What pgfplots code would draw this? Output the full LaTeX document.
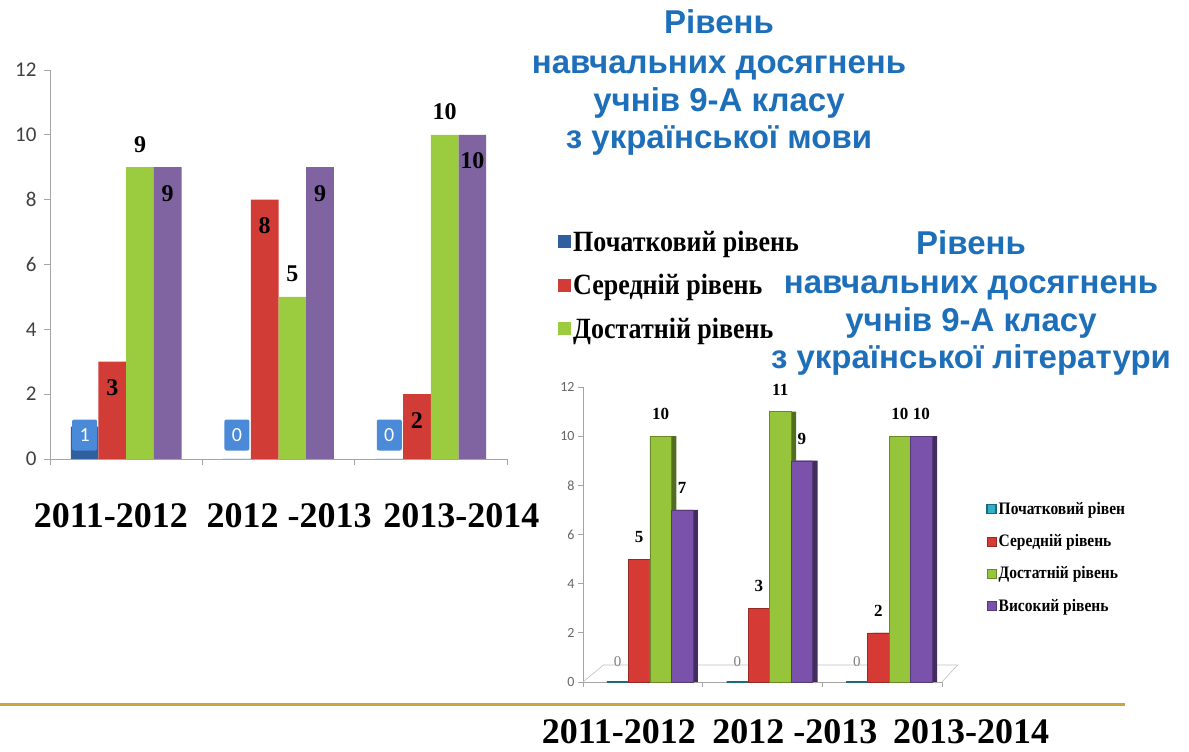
\documentclass[border=0pt]{standalone}
\usepackage{fontspec}
\setmainfont{Liberation Serif}
\newfontfamily\titlefont{Liberation Sans}
\newfontfamily\calibri{Carlito}
\usepackage{graphicx}
\usepackage{pgfplots}
\pgfplotsset{compat=1.18}
\definecolor{lblue}{RGB}{47,95,158}
\definecolor{lbox}{RGB}{74,138,216}
\definecolor{lred}{RGB}{210,60,55}
\definecolor{lgreen}{RGB}{155,203,63}
\definecolor{lpurple}{RGB}{128,100,162}
\definecolor{rteal}{RGB}{49,176,200}
\definecolor{rred}{RGB}{214,58,52}
\definecolor{rgreen}{RGB}{150,196,58}
\definecolor{rpurple}{RGB}{122,82,172}
\definecolor{ttl}{RGB}{30,111,186}
\definecolor{gold}{RGB}{201,166,64}
\definecolor{axgray}{RGB}{165,165,165}
\definecolor{tickgray}{RGB}{64,64,64}
\newcommand{\ttlline}[3]{%
  \node[anchor=base, text=ttl, font=\titlefont\bfseries\fontsize{33}{38}\selectfont] at (#1,#2) {#3};}
\newcommand{\tall}[1]{\scalebox{1}[1.13]{#1}}
\begin{document}
\begin{tikzpicture}[x=1pt,y=1pt]
\path[use as bounding box, fill=white] (0,0) rectangle (1189,752);
% titles
\ttlline{719}{718}{Рівень}
\ttlline{719}{678}{навчальних досягнень}
\ttlline{719}{640}{учнів 9-А класу}
\ttlline{719}{603}{з української мови}
\ttlline{971}{497}{Рівень}
\ttlline{971}{458}{навчальних досягнень}
\ttlline{971}{420}{учнів 9-А класу}
\ttlline{971}{383}{з української літератури}
\draw[gold, line width=3pt] (0,47) -- (1125,47);

% ---------- left chart ----------
\begin{axis}[
  at={(50pt,293pt)}, anchor=south west,
  scale only axis, width=457pt, height=389pt,
  xmin=-0.5, xmax=2.5, ymin=0, ymax=12,
  axis lines=left,
  axis line style={-, draw=axgray, line width=0.8pt},
  x axis line style={-}, y axis line style={-},
  xtick={-0.5,0.5,1.5,2.5}, xticklabels={},
  extra x ticks={-0.1,1.07,2.2},
  extra x tick labels={2011-2012,2012 -2013,2013-2014},
  extra x tick style={major tick length=0pt,
     tick label style={font=\bfseries\fontsize{36}{36}\selectfont, text=black, yshift=-41pt}},
  ytick={0,2,...,12},
  tick align=outside, major tick length=6pt,
  tick style={draw=axgray, line width=0.8pt},
  yticklabel style={font=\calibri\fontsize{21}{21}\selectfont, text=tickgray, xshift=-4pt},
  /pgf/number format/assume math mode=true,
  clip=false,
  legend image code/.code={\fill[#1] (0pt,-6.5pt) rectangle (13pt,6.5pt);},
  legend style={at={(1.105,0.597)}, anchor=north west, draw=none, fill=none,
     font=\bfseries\fontsize{26}{26}\selectfont, row sep=17.5pt,
     /tikz/every even column/.append style={column sep=0pt}},
  legend cell align=left,
]
\addplot[ybar, bar width=27.7pt, bar shift=-41.55pt, fill=lblue, draw=none]
  coordinates {(0,1) (1,0) (2,0)};
\addlegendentry{\tall{Початковий рівень}}
\addplot[forget plot, only marks, mark=*, mark size=0pt,
  point meta=explicit symbolic, nodes near coords,
  every node near coord/.append style={anchor=center, xshift=-41.55pt, fill=lbox,
    text=white, rounded corners=2pt, minimum width=25pt, minimum height=31pt,
    inner sep=0pt, font=\calibri\fontsize{20}{20}\selectfont}]
  coordinates {(0,0.74) [1] (1,0.74) [0] (2,0.74) [0]};
\addplot[ybar, bar width=27.7pt, bar shift=-13.85pt, fill=lred, draw=none,
  nodes near coords,
  every node near coord/.append style={anchor=center, xshift=-13.85pt, yshift=-26pt,
    font=\bfseries\fontsize{24}{24}\selectfont, text=black}]
  coordinates {(0,3) (1,8) (2,2)};
\addlegendentry{\tall{Середній рівень}}
\addplot[ybar, bar width=27.7pt, bar shift=13.85pt, fill=lgreen, draw=none,
  nodes near coords,
  every node near coord/.append style={anchor=center, xshift=13.85pt, yshift=23pt,
    font=\bfseries\fontsize{24}{24}\selectfont, text=black}]
  coordinates {(0,9) (1,5) (2,10)};
\addlegendentry{\tall{Достатній рівень}}
\addplot[ybar, bar width=27.7pt, bar shift=41.55pt, fill=lpurple, draw=none,
  nodes near coords,
  every node near coord/.append style={anchor=center, xshift=41.55pt, yshift=-26pt,
    font=\bfseries\fontsize{24}{24}\selectfont, text=black}]
  coordinates {(0,9) (1,9) (2,10)};
\end{axis}

% ---------- right chart ----------
\begin{axis}[
  at={(583pt,70pt)}, anchor=south west,
  scale only axis, width=359pt, height=295pt,
  xmin=-0.5, xmax=2.5, ymin=0, ymax=12,
  axis lines=left,
  axis line style={-, draw=axgray, line width=0.8pt},
  x axis line style={-}, y axis line style={-},
  xtick={-0.5,0.5,1.5,2.5}, xticklabels={},
  extra x ticks={-0.2,1.27,2.45},
  extra x tick labels={2011-2012,2012 -2013,\makebox[0pt]{\hspace{70pt}2013-2014}},
  extra x tick style={major tick length=0pt,
     tick label style={font=\bfseries\fontsize{36}{36}\selectfont, text=black, yshift=-34pt}},
  ytick={0,2,...,12},
  tick align=outside, major tick length=5pt,
  tick style={draw=axgray, line width=0.8pt},
  yticklabel style={font=\calibri\fontsize{14}{14}\selectfont, text=tickgray!80},
  /pgf/number format/assume math mode=true,
  clip=false,
  legend image code/.code={\fill[#1] (0pt,-4.5pt) rectangle (9pt,4.5pt);},
  legend style={at={(1.115,0.623)}, anchor=north west, draw=none, fill=none,
     font=\bfseries\fontsize{15.5}{15.5}\selectfont, row sep=14.5pt},
  legend cell align=left,
]
\draw[axgray!70, line width=0.6pt] (axis cs:-0.5,0) -- (axis cs:-0.33,0.69) -- (axis cs:2.63,0.69) -- (axis cs:2.5,0);
\addplot[ybar, bar width=21.5pt, bar shift=-25.25pt, fill=rteal, draw=rteal!60!black, line width=1.2pt,
  nodes near coords,
  every node near coord/.append style={anchor=center, xshift=-25.25pt, yshift=20pt,
    font=\fontsize{15}{15}\selectfont, text=gray}]
  coordinates {(0,0) (1,0) (2,0)};
\addlegendentry{\tall{Початковий рівен}}
% red
\addplot[forget plot, ybar, bar width=21.5pt, bar shift=1.25pt, fill=rred!60!black, draw=none]
  coordinates {(0,5) (1,3) (2,2)};
\addplot[ybar, bar width=21.5pt, bar shift=-3.75pt, fill=rred, draw=rred!70!black, line width=0.4pt,
  nodes near coords,
  every node near coord/.append style={anchor=center, xshift=-3.75pt, yshift=22pt,
    font=\bfseries\fontsize{17}{17}\selectfont, text=black}]
  coordinates {(0,5) (1,3) (2,2)};
\addlegendentry{\tall{Середній рівень}}
% green
\addplot[forget plot, ybar, bar width=21.5pt, bar shift=22.75pt, fill=rgreen!55!black, draw=none]
  coordinates {(0,10) (1,11) (2,10)};
\addplot[ybar, bar width=21.5pt, bar shift=17.75pt, fill=rgreen, draw=rgreen!70!black, line width=0.4pt,
  nodes near coords,
  every node near coord/.append style={anchor=center, xshift=17.75pt, yshift=22pt,
    font=\bfseries\fontsize{17}{17}\selectfont, text=black}]
  coordinates {(0,10) (1,11) (2,10)};
\addlegendentry{\tall{Достатній рівень}}
% purple
\addplot[forget plot, ybar, bar width=21.5pt, bar shift=44.25pt, fill=rpurple!55!black, draw=none]
  coordinates {(0,7) (1,9) (2,10)};
\addplot[ybar, bar width=21.5pt, bar shift=39.25pt, fill=rpurple, draw=rpurple!70!black, line width=0.4pt,
  nodes near coords,
  every node near coord/.append style={anchor=center, xshift=39.25pt, yshift=22pt,
    font=\bfseries\fontsize{17}{17}\selectfont, text=black}]
  coordinates {(0,7) (1,9) (2,10)};
\addlegendentry{\tall{Високий рівень}}
\end{axis}
\end{tikzpicture}
\end{document}
